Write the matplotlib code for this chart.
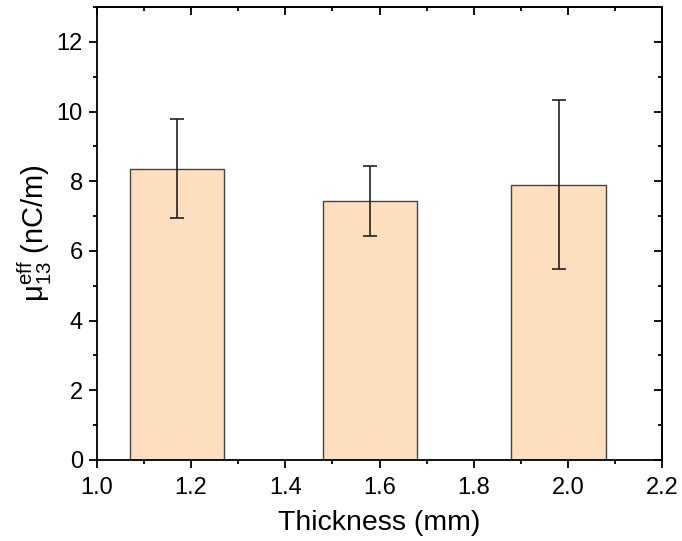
import matplotlib
matplotlib.use("Agg")
import matplotlib.pyplot as plt
from matplotlib.ticker import MultipleLocator

thickness = [1.17, 1.58, 1.98]
mu_eff = [8.36, 7.43, 7.90]
mu_err = [1.42, 1.01, 2.42]

plt.rcParams["font.family"] = ["Liberation Sans", "DejaVu Sans"]
plt.rcParams["mathtext.fontset"] = "custom"
plt.rcParams["mathtext.rm"] = "Liberation Sans"
plt.rcParams["mathtext.it"] = "Liberation Sans"
plt.rcParams["mathtext.default"] = "regular"

fig = plt.figure(figsize=(6.82, 5.41), dpi=100)
ax = fig.add_axes([0.142, 0.150, 0.829, 0.837])

ax.bar(thickness, mu_eff, width=0.2, color="#FDDEBE", edgecolor="#444444",
	linewidth=1.0, zorder=2)
ax.errorbar(thickness, mu_eff, yerr=mu_err, fmt="none", ecolor="#222222",
	elinewidth=1.2, capsize=5, capthick=1.2, zorder=3)

ax.set_xlim(1.0, 2.2)
ax.set_ylim(0, 13)
ax.xaxis.set_minor_locator(MultipleLocator(0.1))
ax.yaxis.set_minor_locator(MultipleLocator(1))
ax.set_xticks([1.0, 1.2, 1.4, 1.6, 1.8, 2.0, 2.2])
ax.set_xticklabels(["1.0", "1.2", "1.4", "1.6", "1.8", "2.0", "2.2"])
ax.set_yticks([0, 2, 4, 6, 8, 10, 12])

for s in ax.spines.values():
	s.set_linewidth(1.3)

ax.tick_params(which="both", direction="out", width=1.3, labelsize=17, top=False, right=False)
ax.tick_params(which="major", length=6, pad=4)
ax.tick_params(axis="x", which="major", pad=6)
ax.tick_params(which="minor", length=3)

# inward ticks on top and right
axt = ax.secondary_xaxis("top")
axt.xaxis.set_major_locator(MultipleLocator(0.2))
axt.xaxis.set_minor_locator(MultipleLocator(0.1))
axt.tick_params(which="both", direction="in", width=1.3, labeltop=False)
axt.tick_params(which="major", length=6)
axt.tick_params(which="minor", length=3)
axr = ax.secondary_yaxis("right")
axr.yaxis.set_major_locator(MultipleLocator(2))
axr.yaxis.set_minor_locator(MultipleLocator(1))
axr.tick_params(which="both", direction="in", width=1.3, labelright=False)
axr.tick_params(which="major", length=6)
axr.tick_params(which="minor", length=3)
axt.spines["top"].set_linewidth(1.3)
axr.spines["right"].set_linewidth(1.3)

ax.set_xlabel("Thickness (mm)", fontsize=20.5, labelpad=8)
ax.set_ylabel(r"$\mu_{13}^{eff}$ (nC/m)", fontsize=21, labelpad=2)

fig.savefig("out.png", dpi=100)
